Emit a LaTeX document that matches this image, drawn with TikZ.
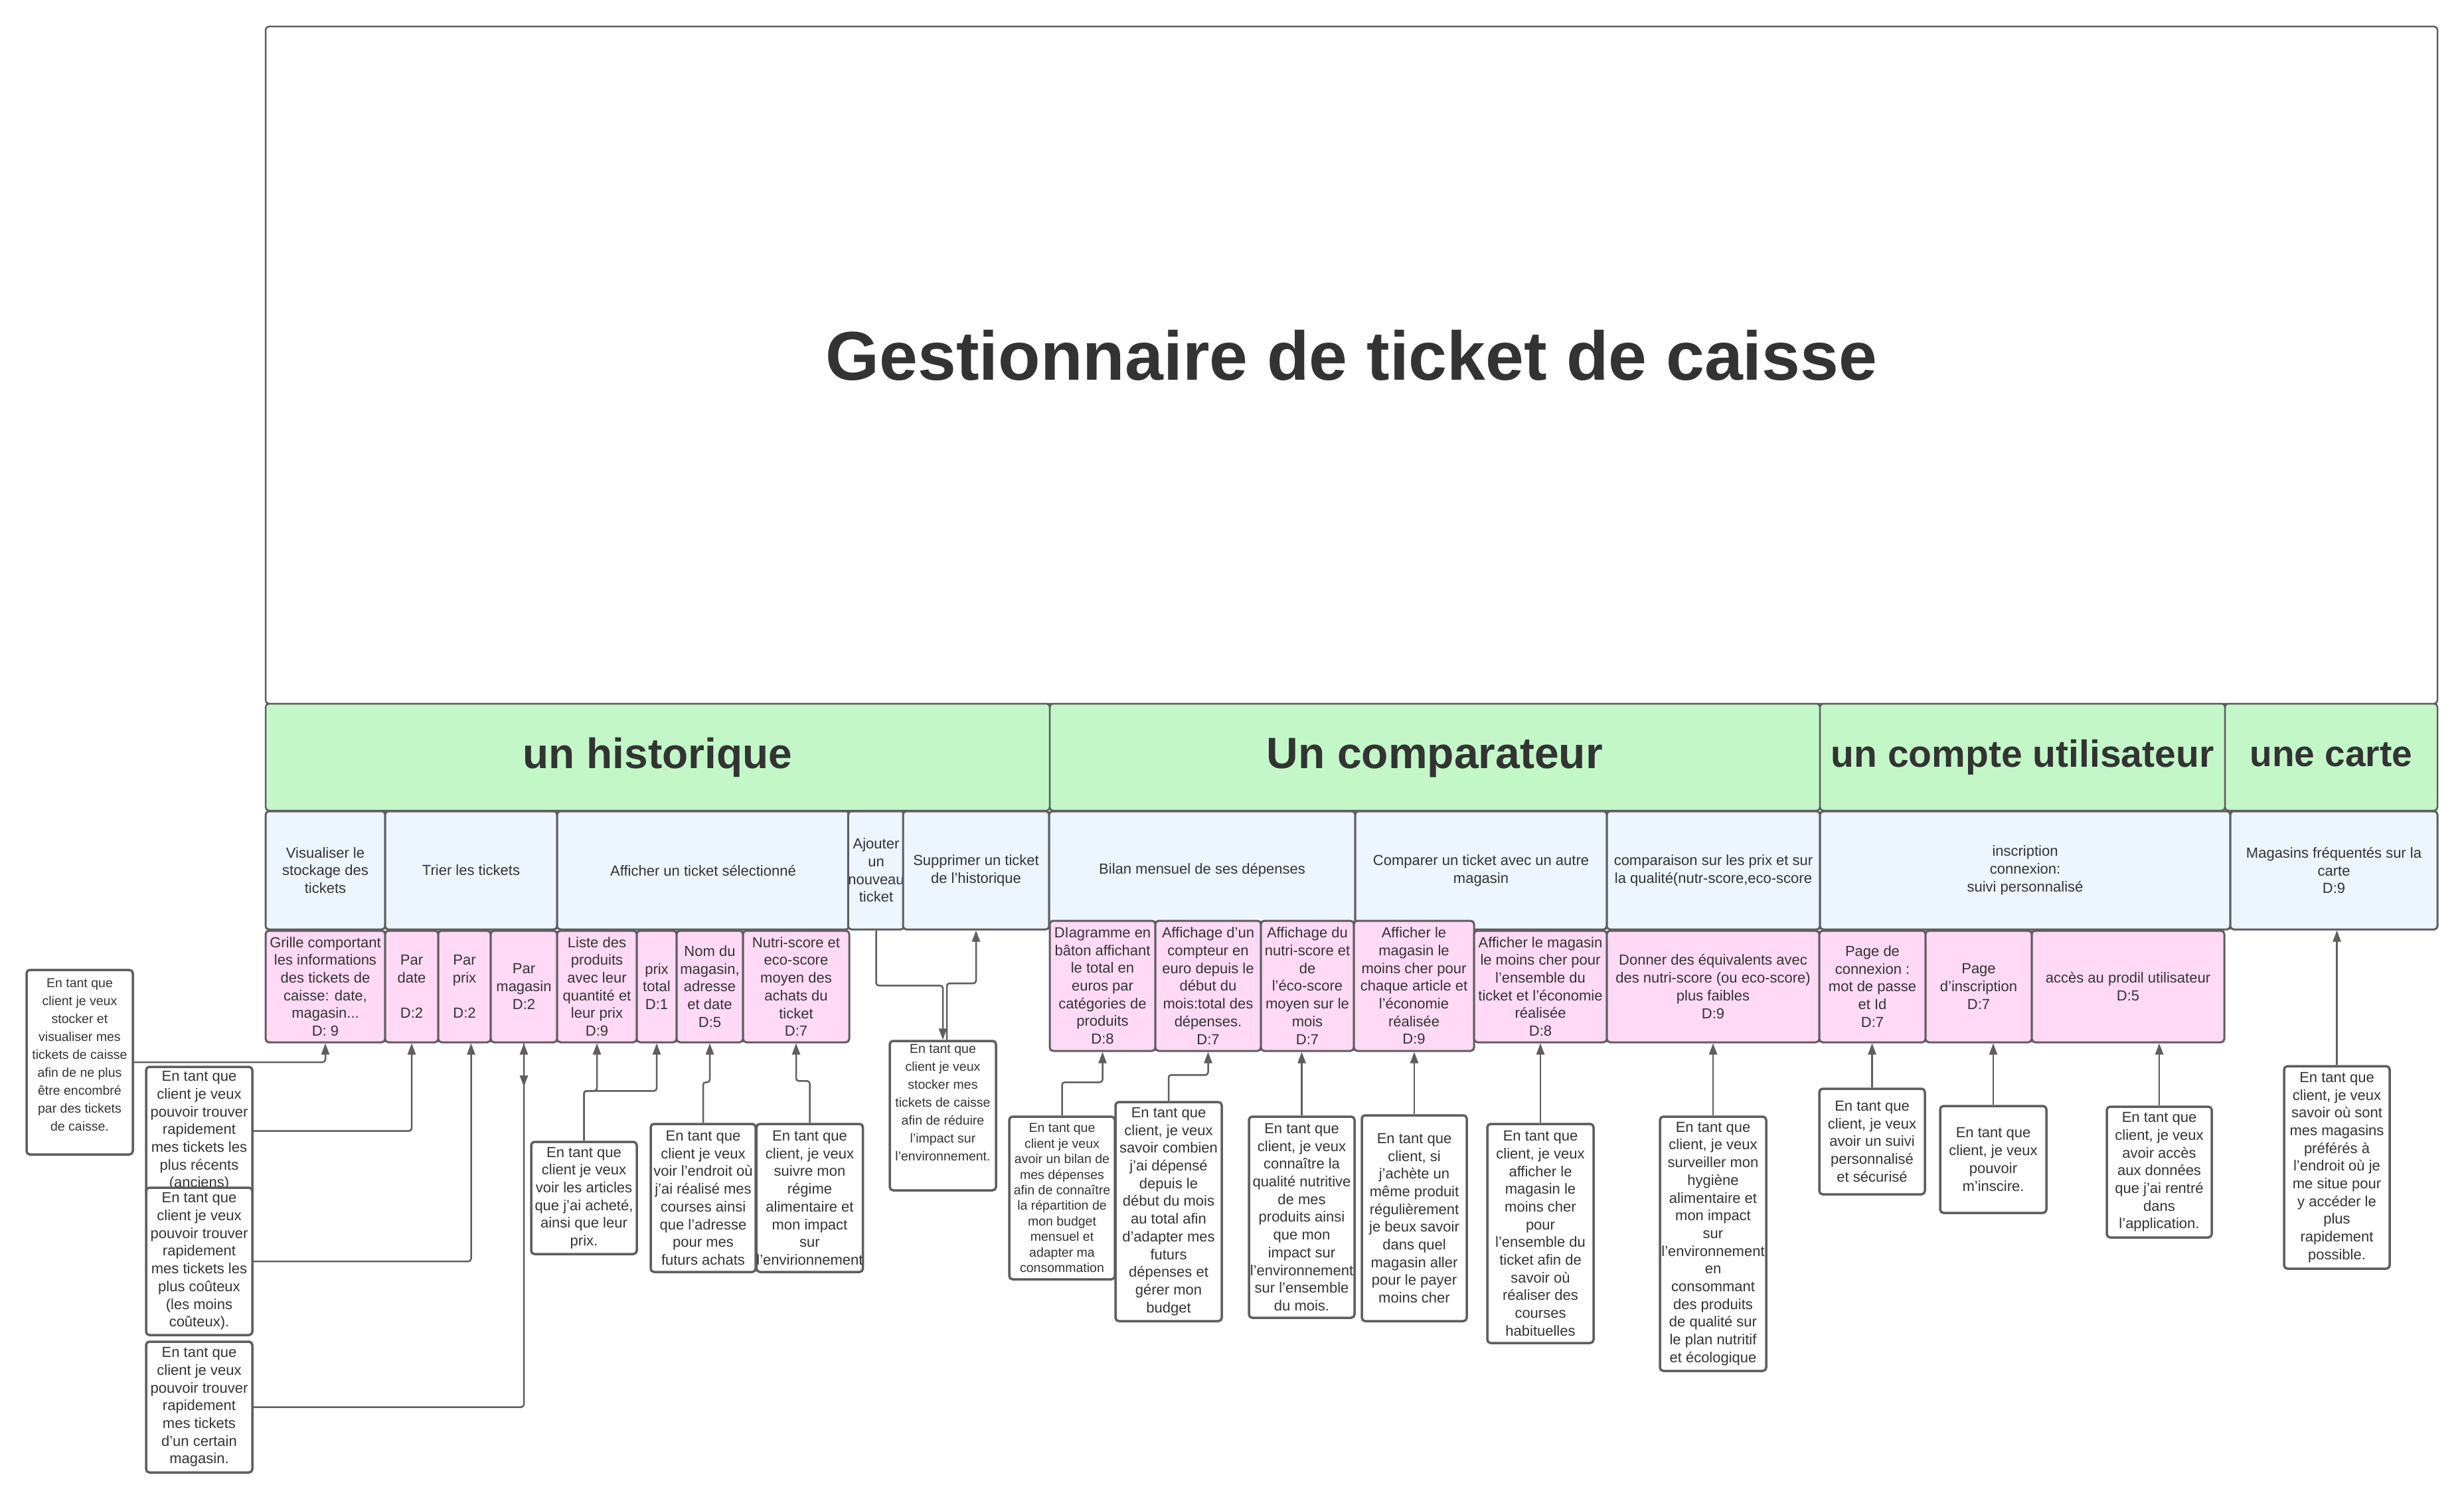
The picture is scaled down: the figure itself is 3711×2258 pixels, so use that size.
\documentclass[tikz,border=0pt]{standalone}
\usepackage{fontspec}
\setmainfont{Liberation Sans}
\usetikzlibrary{arrows.meta}
\definecolor{lc}{HTML}{5E5E5E}
\definecolor{tc}{HTML}{333333}
\definecolor{gr}{HTML}{C3F7C8}
\definecolor{bl}{HTML}{EDF5FF}
\definecolor{pk}{HTML}{FFD9F5}
\newcommand\fsz[2]{\fontsize{#1}{#2}\selectfont}
\begin{document}
\begin{tikzpicture}[x=1pt,y=-1pt,
  box/.style={draw=lc, line width=3pt, rounded corners=5pt, inner sep=0pt, align=center, text=tc},
  grn/.style={box, line width=2.5pt, fill=gr},
  blu/.style={box, fill=bl, font=\fsz{22pt}{26.7pt}},
  pnk/.style={box, fill=pk, font=\fsz{22pt}{26.7pt}},
  story/.style={box, line width=3.5pt, fill=white, font=\fsz{22pt}{26.7pt}},
  smallstory/.style={story, font=\fsz{19.5pt}{27pt}},
  sz/.style 2 args={minimum width=#1pt, minimum height=#2pt},
  arr/.style={draw=lc, line width=2.5pt, rounded corners=4pt, -{Triangle[length=17pt,width=12pt]}},
]
\useasboundingbox (0,0) rectangle (3711,2258);
\fill[white] (0,0) rectangle (3711,2258);

% title
\node[draw=lc, line width=2.5pt, rounded corners=5pt, inner sep=0pt, sz={3271}{1020}] (frame) at (2035.5,550) {};
\node[anchor=base, text=tc, font=\bfseries\fsz{104pt}{110pt}] (title) at (2035.5,572) {Gestionnaire de ticket de caisse};

% green headers
\node[grn, sz={1181}{161}, font=\bfseries\fsz{64pt}{70pt}, text height=46.7pt, text depth=13.4pt] (G1) at (990.5,1140.5) {un historique};
\node[grn, sz={1160}{161}, font=\bfseries\fsz{66pt}{72pt}, text height=48.2pt, text depth=13.9pt] (G2) at (2161,1140.5) {Un comparateur};
\node[grn, sz={610}{161}, font=\bfseries\fsz{57pt}{62pt}, text height=41.6pt, text depth=12pt] (G3) at (3046,1140.5) {un compte utilisateur};
\node[grn, sz={320}{161}, font=\bfseries\fsz{55pt}{60pt}, text height=40.2pt, text depth=11.6pt] (G4) at (3511,1140.5) {une carte};

% blue row
\node[blu, sz={180}{178}] (B1) at (490,1311) {Visualiser le\\stockage des\\tickets};
\node[blu, sz={259}{178}] (B2) at (709.5,1311) {Trier les tickets};
\node[blu, sz={440}{178}] (B3) at (1059,1311) {Afficher un ticket sélectionné};
\node[blu, sz={81}{178}] (B4) at (1319.5,1311) {Ajouter\\un\\nouveau\\ticket};
\node[blu, sz={220}{178}] (B5) at (1470,1311) {Supprimer un ticket\\de l'historique};
\node[blu, sz={461}{178}] (B6) at (1810.5,1311) {Bilan mensuel de ses dépenses};
\node[blu, sz={379}{178}] (B7) at (2230.5,1311) {Comparer un ticket avec un autre\\magasin};
\node[blu, sz={321}{178}] (B8) at (2580.5,1311) {comparaison sur les prix et sur\\la qualité(nutr-score,eco-score};
\node[blu, sz={618}{178}] (B9) at (3050,1311) {inscription\\connexion:\\suivi personnalisé};
\node[blu, sz={312}{178}] (B10) at (3515,1311) {Magasins fréquentés sur la\\carte\\D:9};

% pink row
\node[pnk, sz={180}{168}] (P1) at (490,1486) {Grille comportant\\les informations\\des tickets de\\caisse: date,\\magasin...\\D: 9};
\node[pnk, sz={80}{168}] (P2) at (620,1486) {Par\\date\\ \\D:2};
\node[pnk, sz={79}{168}] (P3) at (699.5,1486) {Par\\prix\\ \\D:2};
\node[pnk, sz={100}{168}] (P4) at (789,1486) {Par\\magasin\\D:2};
\node[pnk, sz={120}{168}] (P5) at (899,1486) {Liste des\\produits\\avec leur\\quantité et\\leur prix\\D:9};
\node[pnk, sz={60}{168}] (P6) at (989,1486) {prix\\total\\D:1};
\node[pnk, sz={100}{168}] (P7) at (1069,1486) {Nom du\\magasin,\\adresse\\et date\\D:5};
\node[pnk, sz={160}{168}] (P8) at (1199,1486) {Nutri-score et\\eco-score\\moyen des\\achats du\\ticket\\D:7};
\node[pnk, sz={159}{196}] (P9) at (1660.5,1485) {DIagramme en\\bâton affichant\\le total en\\euros par\\catégories de\\produits\\D:8};
\node[pnk, sz={159}{196}] (P10) at (1819.5,1485) {Affichage d'un\\compteur en\\euro depuis le\\début du\\mois:total des\\dépenses.\\D:7};
\node[pnk, sz={140}{196}] (P11) at (1969,1485) {Affichage du\\nutri-score et\\de\\l'éco-score\\moyen sur le\\mois\\D:7};
\node[pnk, sz={181}{196}] (P12) at (2129.5,1485) {Afficher le\\magasin le\\moins cher pour\\chaque article  et\\l'économie\\réalisée\\D:9};
\node[pnk, sz={200}{168}] (P13) at (2320,1486) {Afficher le magasin\\le moins cher pour\\l'ensemble du\\ticket et l'économie\\réalisée\\D:8};
\node[pnk, sz={320}{168}] (P14) at (2580,1486) {Donner des équivalents avec\\des nutri-score (ou eco-score)\\plus faibles\\D:9};
\node[pnk, sz={160}{168}] (P15) at (2820,1486) {Page de\\connexion :\\mot de passe\\et Id\\D:7};
\node[pnk, sz={160}{168}] (P16) at (2980,1486) {Page\\d'inscription\\D:7};
\node[pnk, sz={290}{168}] (P17) at (3205,1486) {accès au prodil utilisateur\\D:5};

% user stories
\node[smallstory, sz={160}{278}, text depth=23pt] (S1) at (120,1600) {En tant que\\client je veux\\stocker et\\visualiser  mes\\tickets de caisse\\afin de ne plus\\être encombré\\par des tickets\\de caisse.};
\node[story, sz={160}{193}] (S2) at (300,1703.5) {En tant que\\client je veux\\pouvoir trouver\\rapidement\\mes tickets les\\plus récents\\(anciens)};
\node[story, sz={160}{222}] (S3) at (300,1900) {En tant que\\client je veux\\pouvoir trouver\\rapidement\\mes tickets les\\plus coûteux\\(les moins\\coûteux).};
\node[story, sz={160}{197}] (S4) at (300,2119.5) {En tant que\\client je veux\\pouvoir trouver\\rapidement\\mes tickets\\d'un certain\\magasin.};
\node[story, sz={159}{169}] (S5) at (879.5,1804.5) {En tant que\\client je veux\\voir les articles\\que j'ai acheté,\\ainsi que leur\\prix.};
\node[story, sz={158}{223}] (S6) at (1059,1804.5) {En tant que\\client je veux\\voir l'endroit où\\j'ai réalisé mes\\courses ainsi\\que l'adresse\\pour mes\\futurs achats};
\node[story, sz={159}{223}] (S7) at (1219.5,1804.5) {En tant que\\client, je veux\\suivre mon\\régime\\alimentaire et\\mon impact\\sur\\l'envirionnement};
\node[smallstory, sz={160}{225}, text depth=39pt] (S8) at (1420,1680.5) {En tant que\\client je veux\\stocker mes\\tickets de caisse\\afin de réduire\\l’impact sur\\l’environnement.};
\node[story, sz={159}{245}, font=\fsz{19.5pt}{23.4pt}] (S9) at (1599.5,1804.5) {En tant que\\client je veux\\avoir un bilan de\\mes dépenses\\afin de connaître\\la répartition de\\mon budget\\mensuel et\\adapter ma\\consommation};
\node[story, sz={160}{330}] (S10) at (1760,1825) {En tant que\\client, je veux\\savoir combien\\j'ai dépensé\\depuis le\\début du mois\\au total afin\\d'adapter mes\\futurs\\dépenses et\\gérer mon\\budget};
\node[story, sz={159}{303}] (S11) at (1960.5,1833.5) {En tant que\\client, je veux\\connaître la\\qualité nutritive\\de mes\\produits ainsi\\que mon\\impact sur\\l'environnement\\sur l'ensemble\\du mois.};
\node[story, sz={158}{310}] (S12) at (2130,1835) {En tant que\\client, si\\j'achète un\\même produit\\régulièrement\\je beux savoir\\dans quel\\magasin aller\\pour le payer\\moins cher};
\node[story, sz={160}{330}] (S13) at (2320,1858) {En tant que\\client, je veux\\afficher le\\magasin le\\moins cher\\pour\\l'ensemble du\\ticket afin de\\savoir où\\réaliser des\\courses\\habituelles};
\node[story, sz={160}{383}] (S14) at (2580,1873.5) {En tant que\\client, je veux\\surveiller mon\\hygiène\\alimentaire et\\mon impact\\sur\\l'environnement\\en\\consommant\\des produits\\de qualité sur\\le plan nutritif\\et écologique};
\node[story, sz={159}{159}] (S15) at (2819.5,1719.5) {En tant que\\client, je veux\\avoir un suivi\\personnalisé\\et sécurisé};
\node[story, sz={160}{161}] (S16) at (3002,1746.5) {En tant que\\client, je veux\\pouvoir\\m'inscire.};
\node[story, sz={158}{197}] (S17) at (3252,1765.5) {En tant que\\client, je veux\\avoir accès\\aux données\\que j'ai rentré\\dans\\l'application.};
\node[story, sz={159}{305}] (S18) at (3519.5,1758.5) {En tant que\\client, je veux\\savoir où sont\\mes magasins\\préférés à\\l'endroit où je\\me situe pour\\y accéder le\\plus\\rapidement\\possible.};

% connectors
\draw[arr] (S1.east) -| (P1.south);
\draw[arr] (S2.east) -| (P2.south);
\draw[arr] (S3.east) -| ([xshift=10pt]P3.south);
\draw[arr] (S4.east) -| (P4.south);
\coordinate (pmend) at (789,1637);
\draw[arr] (P4.south) -- (pmend);
\draw[arr] (S5.north) -- ++(0,-75) -| (P5.south);
\draw[arr] (S5.north) -- ++(0,-75) -| (P6.south);
\draw[arr] (S6.north) -- ++(0,-61) -| (P7.south);
\draw[arr] (S7.north) -- ++(0,-63) -| (P8.south);
\draw[arr] (B4.south) -- ++(0,83) -| (S8.north);
\draw[arr] ([xshift=6pt]S8.north) -- ++(0,-85) -| (B5.south);
\draw[arr] (S9.north) -- ++(0,-50) -| (P9.south);
\draw[arr] (S10.north) -- ++(0,-39) -| (P10.south);
\draw[arr] (S11.north) -- (S11.north |- P11.south);
\draw[arr] (S12.north) -- (S12.north |- P12.south);
\draw[arr] (S13.north) -- (S13.north |- P13.south);
\draw[arr] (S14.north) -- (S14.north |- P14.south);
\draw[arr] (S15.north) -- (S15.north |- P15.south);
\draw[arr] (S16.north) -- (S16.north |- P16.south);
\draw[arr] (S17.north) -- (S17.north |- P17.south);
\draw[arr] (S18.north) -- (S18.north |- B10.south);
\end{tikzpicture}
\end{document}
